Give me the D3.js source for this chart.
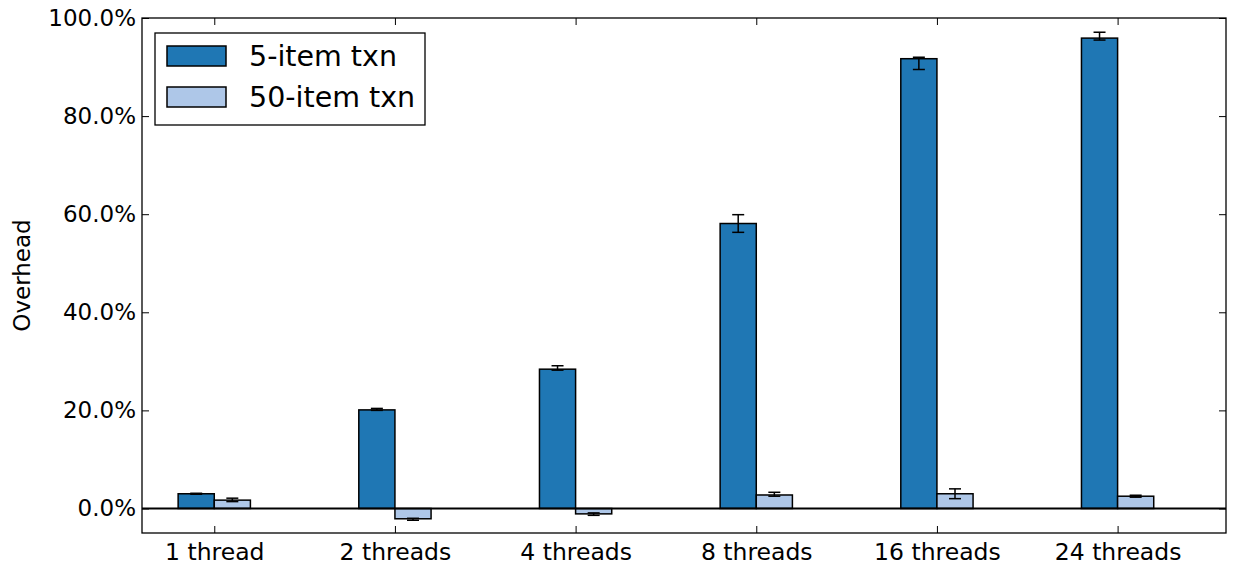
<!DOCTYPE html>
<html>
<head>
  <meta charset="utf-8">
  <title>Overhead by thread count</title>
  <script src="https://cdn.jsdelivr.net/npm/d3@7"></script>
  <style>
    body { margin: 0; background: #fff; }
    svg text { font-family: "DejaVu Sans", sans-serif; fill: #000; }
  </style>
</head>
<body>
  <svg width="1233" height="563"></svg>

  <script>
    // data (percent)
    var categories = ["1 thread", "2 threads", "4 threads", "8 threads", "16 threads", "24 threads"];
    var seriesNames = ["5-item txn", "50-item txn"];
    var colors = ["#1f77b4", "#aec7e8"];

    var small = [3.0, 20.1, 28.4, 58.1, 91.7, 95.9];
    var smallLo = [2.9, 20.0, 28.2, 56.3, 89.5, 95.5];
    var smallHi = [3.1, 20.4, 29.1, 59.9, 92.0, 97.1];

    var large = [1.7, -2.1, -1.1, 2.75, 3.0, 2.5];
    var largeLo = [1.4, -2.4, -1.4, 2.5, 2.0, 2.3];
    var largeHi = [2.1, -2.0, -0.9, 3.3, 4.0, 2.7];

    var yTicks = [0, 20, 40, 60, 80, 100];

    var svg = d3.select("svg"),
        pLeft = 142, pRight = 1226, pTop = 18, pBottom = 533;

    var x = d3.scaleLinear().domain([-0.4, 5.6]).range([pLeft, pRight]);
    var y = d3.scaleLinear().domain([-5, 100]).range([pBottom, pTop]);
    var barW = 0.2;

    var series = [
      { vals: small, lo: smallLo, hi: smallHi, off: -barW },
      { vals: large, lo: largeLo, hi: largeHi, off: 0 }
    ];

    var g = svg.append("g");

    // bars
    series.forEach(function(s, k) {
      g.selectAll(".bar" + k)
       .data(s.vals)
       .enter().append("rect")
       .attr("x", function(d, i) { return x(i + s.off); })
       .attr("width", x(barW) - x(0))
       .attr("y", function(d) { return y(Math.max(d, 0)); })
       .attr("height", function(d) { return Math.abs(y(d) - y(0)); })
       .attr("fill", colors[k])
       .attr("stroke", "#000")
       .attr("stroke-width", 1.5);
    });

    // zero line
    g.append("line")
     .attr("x1", pLeft).attr("x2", pRight)
     .attr("y1", y(0)).attr("y2", y(0))
     .attr("stroke", "#000").attr("stroke-width", 2);

    // error bars
    series.forEach(function(s) {
      s.vals.forEach(function(d, i) {
        var cx = x(i + s.off + barW / 2);
        var eg = g.append("g").attr("stroke", "#000").attr("stroke-width", 1.5);
        eg.append("line").attr("x1", cx).attr("x2", cx)
          .attr("y1", y(s.lo[i])).attr("y2", y(s.hi[i]));
        [s.lo[i], s.hi[i]].forEach(function(v) {
          eg.append("line").attr("x1", cx - 6).attr("x2", cx + 6)
            .attr("y1", y(v)).attr("y2", y(v));
        });
      });
    });

    // frame
    g.append("rect")
     .attr("x", pLeft).attr("y", pTop)
     .attr("width", pRight - pLeft).attr("height", pBottom - pTop)
     .attr("fill", "none").attr("stroke", "#000").attr("stroke-width", 1.3);

    // axes with inward ticks
    var xAxis = d3.axisBottom(x)
      .tickValues(d3.range(categories.length))
      .tickFormat(function(i) { return categories[i]; })
      .tickSizeInner(-7).tickSizeOuter(0).tickPadding(10);
    var xg = svg.append("g").attr("transform", "translate(0," + pBottom + ")").call(xAxis);

    var xTop = d3.axisTop(x).tickValues(d3.range(categories.length))
      .tickFormat("").tickSizeInner(-7).tickSizeOuter(0);
    var xtg = svg.append("g").attr("transform", "translate(0," + pTop + ")").call(xTop);

    var yAxis = d3.axisLeft(y).tickValues(yTicks)
      .tickFormat(function(d) { return d.toFixed(1) + "%"; })
      .tickSizeInner(-7).tickSizeOuter(0).tickPadding(6);
    var yg = svg.append("g").attr("transform", "translate(" + pLeft + ",0)").call(yAxis);

    var yRight = d3.axisRight(y).tickValues(yTicks)
      .tickFormat("").tickSizeInner(-7).tickSizeOuter(0);
    var yrg = svg.append("g").attr("transform", "translate(" + pRight + ",0)").call(yRight);

    [xg, xtg, yg, yrg].forEach(function(a) {
      a.select(".domain").remove();
      a.selectAll(".tick line").attr("stroke", "#000").attr("stroke-width", 1);
      a.selectAll("text").attr("font-size", 23).attr("font-family", "DejaVu Sans");
    });
    xg.selectAll("text").attr("dy", "0.71em").attr("font-size", 23.5);

    // y label
    svg.append("text")
       .attr("transform", "translate(22," + ((pTop + pBottom) / 2) + ") rotate(-90)")
       .attr("text-anchor", "middle")
       .attr("dy", "0.35em")
       .attr("font-size", 23)
       .text("Overhead");

    // legend
    var lg = svg.append("g").attr("transform", "translate(155,33)");
    lg.append("rect")
      .attr("width", 270).attr("height", 92)
      .attr("fill", "#fff").attr("stroke", "#000").attr("stroke-width", 1.3);
    seriesNames.forEach(function(name, k) {
      lg.append("rect")
        .attr("x", 12).attr("y", 13 + k * 41)
        .attr("width", 59).attr("height", 20)
        .attr("fill", colors[k]).attr("stroke", "#000").attr("stroke-width", 1.5);
      lg.append("text")
        .attr("x", 94).attr("y", 23 + k * 41)
        .attr("dy", "0.35em")
        .attr("font-size", 28.5)
        .text(name);
    });
  </script>
</body>
</html>
